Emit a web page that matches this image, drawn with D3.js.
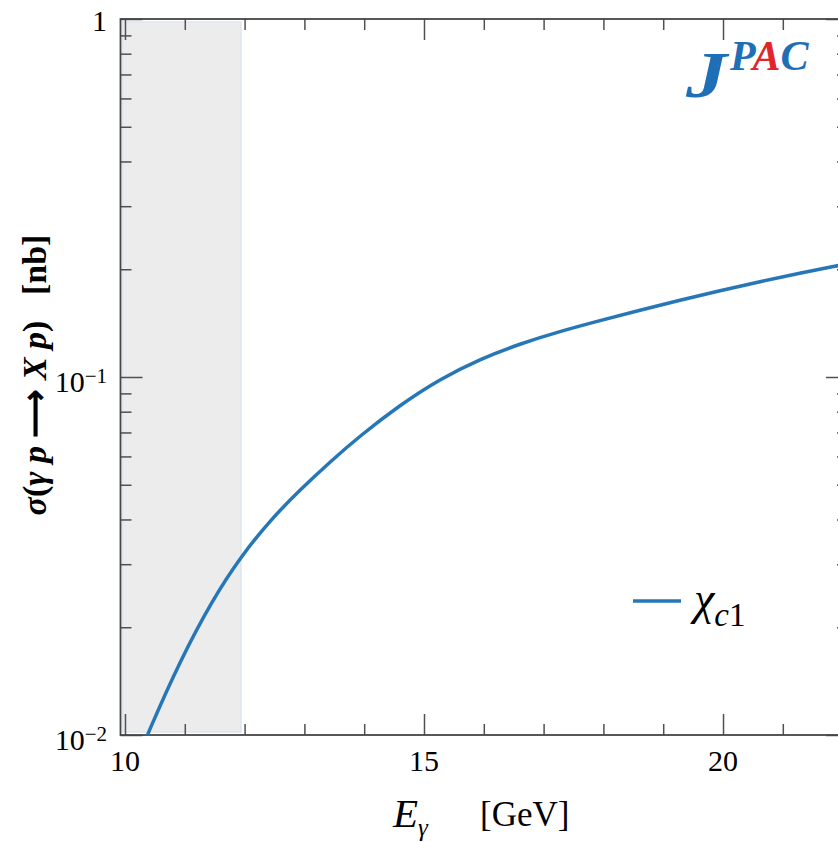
<!DOCTYPE html>
<html>
<head>
<meta charset="utf-8">
<script src="https://cdn.jsdelivr.net/npm/d3@7"></script>
<style>
  html, body { margin: 0; padding: 0; background: #fff; }
  svg { display: block; }
  svg text { font-family: "Liberation Serif", "Times New Roman", serif !important; fill: #000; }
</style>
</head>
<body>
<svg id="chart" width="838" height="842" font-family="Liberation Serif"></svg>
<script>
// ---- data ----
const energy = [10.251, 10.385, 10.92, 11.472, 11.94, 12.425, 12.926, 13.428, 13.93, 14.599, 15.268,
                15.936, 16.605, 17.274, 17.943, 18.612, 19.281, 19.95, 20.619, 21.288, 21.923, 22.09];
const sigma  = [0.00886, 0.01013, 0.01613, 0.02401, 0.03155, 0.03976, 0.04840, 0.05793, 0.06852, 0.08354,
                0.09872, 0.1123, 0.1238, 0.1341, 0.1437, 0.1537, 0.1639, 0.1743, 0.1847, 0.1950, 0.2047, 0.2074];
const seriesName = "χ";
const seriesSub = "c1";
const shadedRange = [9.96, 11.94];
const xMajorTicks = [10, 15, 20];
const xMinorTicks = [11, 12, 13, 14, 16, 17, 18, 19, 21, 22];
const yMajorTicks = [0.01, 0.1, 1];
const yMinorTicks = [0.02, 0.03, 0.04, 0.05, 0.06, 0.07, 0.08, 0.09, 0.2, 0.3, 0.4, 0.5, 0.6, 0.7, 0.8, 0.9];
const yTickLabels = [{v: 0.01, base: "10", exp: "−2"}, {v: 0.1, base: "10", exp: "−1"}, {v: 1, base: "1", exp: ""}];
const xDomain = [9.925, 22.09];
const yDomain = [0.01, 1];

// ---- layout ----
const L = 120.5, R = 848, T = 19, B = 735;
const SERIF = "Liberation Serif";
const svg = d3.select("#chart");
const x = d3.scaleLinear().domain(xDomain).range([L, R]);
const y = d3.scaleLog().domain(yDomain).range([B, T]);

const blue = "#2677b8";
const frameColor = "#454545";
const tickColor = "#505050";

svg.append("defs").append("clipPath").attr("id", "clip")
  .append("rect").attr("x", L).attr("y", T).attr("width", R - L).attr("height", B - T);

// shaded region
svg.append("rect")
  .attr("x", x(shadedRange[0])).attr("y", T + 3)
  .attr("width", x(shadedRange[1]) - x(shadedRange[0]))
  .attr("height", B - T - 6)
  .attr("fill", "#ececec")
  .attr("stroke", "#dfe5ee").attr("stroke-width", 1.5);

function styleAxis(g) {
  g.select(".domain").remove();
  g.selectAll(".tick line").attr("stroke", tickColor).attr("stroke-width", 1.5);
  g.selectAll(".tick text").remove();
}
function addAxis(gen, tx, ty, vals, size) {
  svg.append("g").attr("transform", `translate(${tx},${ty})`)
    .call(gen.tickValues(vals).tickSize(size).tickSizeOuter(0)).call(styleAxis);
}
addAxis(d3.axisBottom(x), 0, B, xMajorTicks, -21);
addAxis(d3.axisBottom(x), 0, B, xMinorTicks, -11);
addAxis(d3.axisTop(x), 0, T, xMajorTicks, -21);
addAxis(d3.axisTop(x), 0, T, xMinorTicks, -11);
addAxis(d3.axisLeft(y), L, 0, yMajorTicks, -22);
addAxis(d3.axisLeft(y), L, 0, yMinorTicks, -11);
addAxis(d3.axisRight(y), R, 0, yMajorTicks, -22);
addAxis(d3.axisRight(y), R, 0, yMinorTicks, -11);

// frame
svg.append("rect").attr("x", L).attr("y", T).attr("width", R - L).attr("height", B - T)
  .attr("fill", "none").attr("stroke", frameColor).attr("stroke-width", 1.8);

// curve
const pts = energy.map((e, i) => [e, sigma[i]]);
svg.append("path")
  .datum(pts)
  .attr("clip-path", "url(#clip)")
  .attr("fill", "none").attr("stroke", blue).attr("stroke-width", 3.5)
  .attr("stroke-linejoin", "round")
  .attr("d", d3.line().x(d => x(d[0])).y(d => y(d[1])).curve(d3.curveBasis));

// x tick labels
svg.selectAll("text.xl").data(xMajorTicks).enter().append("text")
  .attr("class", "xl").attr("font-family", SERIF)
  .attr("x", d => x(d)).attr("y", B + 36)
  .attr("text-anchor", "middle").attr("font-size", 30)
  .text(d => d);

// y tick labels
yTickLabels.forEach(t => {
  const txt = svg.append("text").attr("font-family", SERIF)
    .attr("x", 107).attr("text-anchor", "end").attr("font-size", 30);
  if (t.exp) {
    txt.attr("y", y(t.v) + 15);
    txt.append("tspan").text(t.base);
    txt.append("tspan").attr("dy", -9).attr("font-size", 21).text(t.exp);
  } else {
    txt.attr("y", y(t.v) + 12).text(t.base);
  }
});

// x axis title
const xt = svg.append("text").attr("font-family", SERIF).attr("x", 393).attr("y", 827).attr("font-size", 41);
xt.append("tspan").attr("font-style", "italic").text("E");
xt.append("tspan").attr("font-style", "italic").attr("font-size", 25).attr("dy", 9).text("γ");
svg.append("text").attr("font-family", SERIF).attr("x", 480).attr("y", 826).attr("font-size", 35).text("[GeV]");

// y axis title
const yt = svg.append("text").attr("font-family", SERIF)
  .attr("transform", "translate(46,375) rotate(-90)")
  .attr("text-anchor", "middle").attr("font-size", 34).attr("font-weight", "bold")
  .attr("xml:space", "preserve").style("white-space", "pre");
yt.append("tspan").attr("font-style", "italic").text("σ");
yt.append("tspan").text("(");
yt.append("tspan").attr("font-style", "italic").text("γ p ");
yt.append("tspan").text("⟶");
yt.append("tspan").attr("font-style", "italic").text(" X p");
yt.append("tspan").text(")   [nb]");

// legend
svg.append("line").attr("x1", 633).attr("x2", 681).attr("y1", 601).attr("y2", 601)
  .attr("stroke", blue).attr("stroke-width", 3.5);
const lg = svg.append("text").attr("font-family", SERIF).attr("x", 694).attr("y", 614).attr("font-size", 46);
lg.append("tspan").attr("font-style", "italic").text(seriesName);
lg.append("tspan").attr("font-style", "italic").attr("font-size", 33).attr("dy", 12).text(seriesSub[0]);
lg.append("tspan").attr("font-size", 33).text(seriesSub.slice(1));

// JPAC logo
svg.append("text").attr("font-family", SERIF)
  .attr("transform", "translate(686,97) scale(1.25,1)")
  .attr("font-weight", "bold").attr("font-style", "italic").attr("font-size", 66)
  .style("fill", "#1f6fb6").text("J");
const pac = svg.append("text").attr("font-family", SERIF).attr("x", 730).attr("y", 70)
  .attr("font-weight", "bold").attr("font-style", "italic").attr("font-size", 42);
pac.append("tspan").style("fill", "#1f6fb6").text("P");
pac.append("tspan").style("fill", "#e0262b").text("A");
pac.append("tspan").style("fill", "#1f6fb6").text("C");
</script>
</body>
</html>
